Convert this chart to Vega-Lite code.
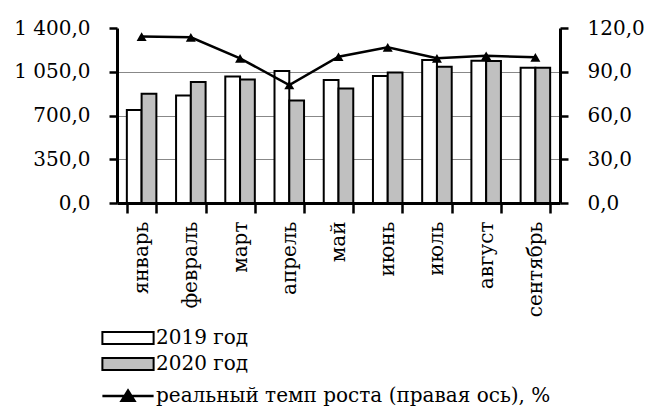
{
  "$schema": "https://vega.github.io/schema/vega-lite/v6.json",
  "width": 443,
  "height": 175,
  "autosize": {"type": "none"},
  "padding": {"left": 117, "top": 28, "right": 88, "bottom": 207},
  "background": "white",
  "config": {
    "font": "DejaVu Serif",
    "view": {"stroke": null},
    "axis": {
      "labelFont": "DejaVu Serif",
      "labelFontSize": 20,
      "labelColor": "black",
      "domainColor": "black",
      "tickColor": "black",
      "domainWidth": 3,
      "tickWidth": 2.5,
      "title": null
    },
    "legend": {
      "labelFont": "DejaVu Serif",
      "labelFontSize": 20,
      "labelColor": "black",
      "labelLimit": 0,
      "padding": 0
    }
  },
  "datasets": {
    "bars": [
      {"month": "январь", "year": "2019 год", "value": 744},
      {"month": "январь", "year": "2020 год", "value": 875},
      {"month": "февраль", "year": "2019 год", "value": 861},
      {"month": "февраль", "year": "2020 год", "value": 968},
      {"month": "март", "year": "2019 год", "value": 1013},
      {"month": "март", "year": "2020 год", "value": 989},
      {"month": "апрель", "year": "2019 год", "value": 1056},
      {"month": "апрель", "year": "2020 год", "value": 821},
      {"month": "май", "year": "2019 год", "value": 984},
      {"month": "май", "year": "2020 год", "value": 917},
      {"month": "июнь", "year": "2019 год", "value": 1016},
      {"month": "июнь", "year": "2020 год", "value": 1045},
      {"month": "июль", "year": "2019 год", "value": 1144},
      {"month": "июль", "year": "2020 год", "value": 1091},
      {"month": "август", "year": "2019 год", "value": 1139},
      {"month": "август", "year": "2020 год", "value": 1137},
      {"month": "сентябрь", "year": "2019 год", "value": 1083},
      {"month": "сентябрь", "year": "2020 год", "value": 1083}
    ],
    "rate": [
      {"month": "январь", "rate": 114.1},
      {"month": "февраль", "rate": 113.6},
      {"month": "март", "rate": 99.2},
      {"month": "апрель", "rate": 80.9},
      {"month": "май", "rate": 100.3},
      {"month": "июнь", "rate": 106.7},
      {"month": "июль", "rate": 99.2},
      {"month": "август", "rate": 101.0},
      {"month": "сентябрь", "rate": 99.9}
    ]
  },
  "encoding": {
    "x": {
      "field": "month",
      "type": "nominal",
      "sort": null,
      "scale": {"paddingInner": 0.4, "paddingOuter": 0.2},
      "axis": {
        "labelAngle": -90,
        "labelPadding": 8,
        "tickSize": 10,
        "tickBand": "extent",
        "grid": false
      }
    }
  },
  "layer": [
    {
      "data": {"name": "bars"},
      "mark": {"type": "bar", "stroke": "black", "strokeWidth": 2},
      "encoding": {
        "xOffset": {"field": "year", "type": "nominal", "sort": ["2019 год", "2020 год"]},
        "y": {
          "field": "value",
          "type": "quantitative",
          "scale": {"domain": [0, 1400], "nice": false},
          "axis": {
            "orient": "left",
            "values": [0, 350, 700, 1050, 1400],
            "labelExpr": "replace(replace(format(datum.value, ',.1f'), ',', ' '), '.', ',')",
            "tickSize": 8,
            "labelPadding": 19,
            "grid": true,
            "gridColor": "#888888",
            "gridWidth": 1,
            "gridOpacity": {"condition": {"test": "datum.value == 0 || datum.value == 1400", "value": 0}, "value": 1}
          }
        },
        "fill": {
          "field": "year",
          "type": "nominal",
          "scale": {"domain": ["2019 год", "2020 год"], "range": ["white", "#c0c0c0"]},
          "legend": {
            "orient": "none",
            "legendX": 1,
            "legendY": 300,
            "title": null,
            "symbolType": "M-4,-0.95H4V0.95H-4Z",
            "symbolSize": 164,
            "symbolStrokeColor": "black",
            "symbolStrokeWidth": 2,
            "labelOffset": 18,
            "rowPadding": 4
          }
        }
      }
    },
    {
      "data": {"name": "rate"},
      "layer": [
        {
          "mark": {"type": "line", "strokeWidth": 2.5},
          "encoding": {
            "y": {
              "field": "rate",
              "type": "quantitative",
              "scale": {"domain": [0, 120], "nice": false},
              "axis": {
                "orient": "right",
                "values": [0, 30, 60, 90, 120],
                "labelExpr": "replace(format(datum.value, '.1f'), '.', ',')",
                "tickSize": 8,
                "labelPadding": 19,
                "grid": false
              }
            },
            "stroke": {
              "datum": "реальный темп роста (правая ось), %",
              "type": "nominal",
              "scale": {"range": ["black"]},
              "legend": {
                "orient": "none",
                "legendX": 1,
                "legendY": 358,
                "title": null,
                "symbolType": "M-4,0H4M-1,0.75L0,-0.85L1,0.75Z",
                "symbolSize": 164,
                "symbolStrokeColor": "black",
                "symbolFillColor": "black",
                "symbolStrokeWidth": 2.5,
                "labelOffset": 18,
                "labelLimit": 0,
                "encode": {"symbols": {"update": {"fill": {"value": "black"}, "stroke": {"value": "black"}}}}
              }
            }
          }
        },
        {
          "mark": {"type": "point", "shape": "triangle-up", "size": 100, "filled": true, "color": "black", "opacity": 1},
          "encoding": {
            "y": {"field": "rate", "type": "quantitative"}
          }
        }
      ]
    }
  ],
  "resolve": {"scale": {"y": "independent"}, "axis": {"y": "independent"}}
}
